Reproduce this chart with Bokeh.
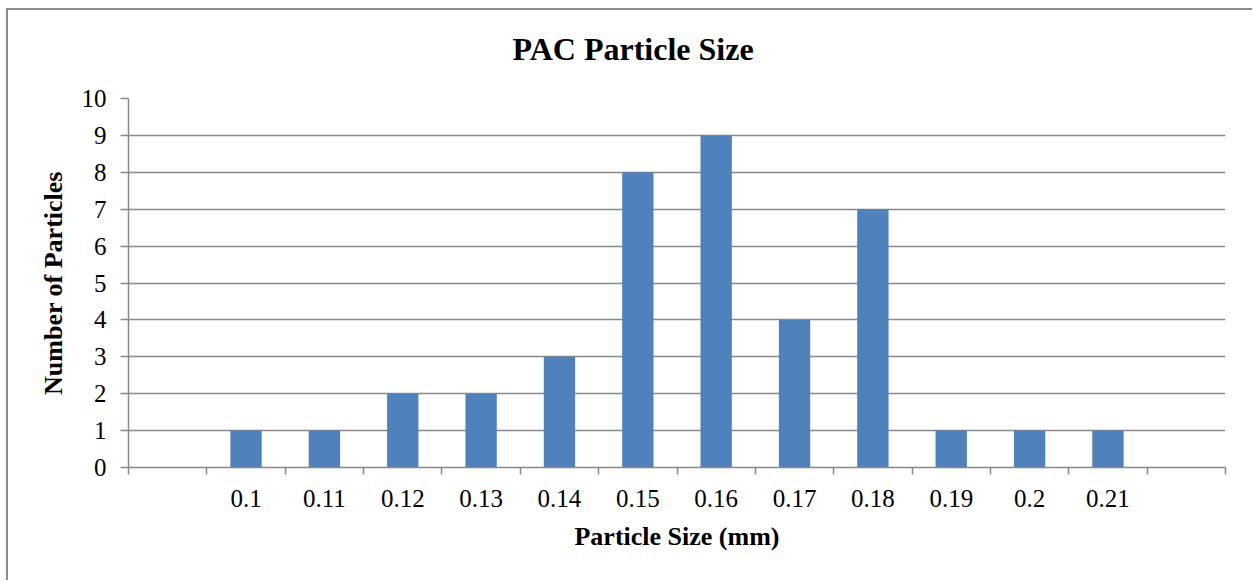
from bokeh.plotting import figure
from bokeh.models import FixedTicker, Range1d, ColumnDataSource
from bokeh.embed import file_html
from bokeh.resources import INLINE

# Data
sizes = ["0.1", "0.11", "0.12", "0.13", "0.14", "0.15", "0.16", "0.17", "0.18", "0.19", "0.2", "0.21"]
counts = [1, 1, 2, 2, 3, 8, 9, 4, 7, 1, 1, 1]
y_ticks = list(range(0, 11))

n_slots = len(sizes) + 2  # one empty slot on each side
centers = [i + 1.5 for i in range(len(sizes))]
source = ColumnDataSource(dict(x=centers, count=counts, size=sizes))

FONT = "Liberation Serif"
GRAY = "#898989"

p = figure(width=1246, height=580, output_backend="svg", toolbar_location=None,
           x_range=Range1d(0, n_slots), y_range=Range1d(0, 10),
           min_border_left=122, min_border_right=27, min_border_top=98, min_border_bottom=113,
           title="PAC Particle Size")
p.border_fill_color = None
p.styles = {"margin-left": "6px", "margin-top": "0px",
            "background": ("linear-gradient(#8c8c8c, #8c8c8c) no-repeat 0px 8px / 100% 2px, "
                           "linear-gradient(#8c8c8c, #8c8c8c) no-repeat 0px 8px / 2px 100%")}

p.vbar(x="x", top="count", width=0.4, source=source, fill_color="#4F81BD", line_color=None)

p.title.align = "left"
p.title.offset = 384
p.title.vertical_align = "top"
p.title.text_font = FONT
p.title.text_font_size = "32px"
p.title.text_font_style = "bold"
p.title.text_color = "black"
p.title.standoff = 60

p.outline_line_color = None
p.xgrid.visible = False
p.ygrid.grid_line_color = GRAY
p.ygrid.grid_line_width = 1.5
p.ygrid.ticker = FixedTicker(ticks=y_ticks)

# x axis
xa = p.xaxis[0]
xa.ticker = FixedTicker(ticks=centers, minor_ticks=list(range(0, n_slots + 1)))
xa.major_label_overrides = {c: s for c, s in zip(centers, sizes)}
xa.major_tick_out = 0
xa.major_tick_in = 0
xa.minor_tick_out = 7
xa.minor_tick_in = 0
xa.minor_tick_line_color = GRAY
xa.minor_tick_line_width = 1.5
xa.axis_line_color = GRAY
xa.axis_line_width = 1.5
xa.major_label_text_font = FONT
xa.major_label_text_font_size = "25px"
xa.major_label_text_color = "black"
xa.major_label_standoff = 15
xa.axis_label = "Particle Size (mm)"
xa.axis_label_text_font = FONT
xa.axis_label_text_font_size = "26px"
xa.axis_label_text_font_style = "bold"
xa.axis_label_text_color = "black"
xa.axis_label_standoff = 12

# y axis
ya = p.yaxis[0]
ya.ticker = FixedTicker(ticks=y_ticks)
ya.major_tick_out = 8
ya.major_tick_in = 0
ya.minor_tick_out = 0
ya.minor_tick_in = 0
ya.major_tick_line_color = GRAY
ya.major_tick_line_width = 1.5
ya.axis_line_color = GRAY
ya.axis_line_width = 1.5
ya.major_label_text_font = FONT
ya.major_label_text_font_size = "25px"
ya.major_label_text_color = "black"
ya.major_label_standoff = 14
ya.axis_label = "Number of Particles"
ya.axis_label_text_font = FONT
ya.axis_label_text_font_size = "26px"
ya.axis_label_text_font_style = "bold"
ya.axis_label_text_color = "black"
ya.axis_label_standoff = 11

open("out.html", "w").write(file_html(p, INLINE))
